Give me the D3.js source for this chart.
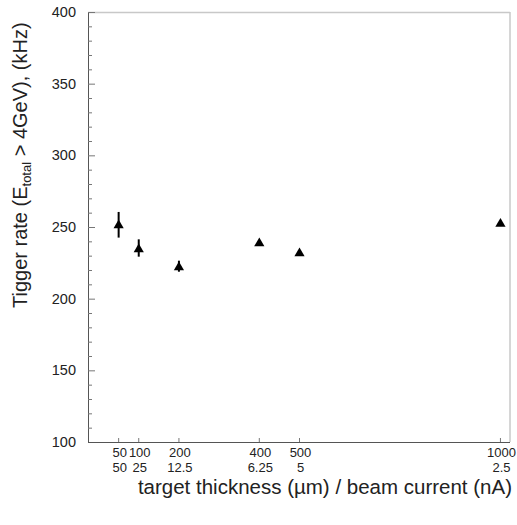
<!DOCTYPE html>
<html>
<head>
<meta charset="utf-8">
<script src="https://cdn.jsdelivr.net/npm/d3@7"></script>
<style>
  body { margin: 0; background: #fff; }
  text { font-family: "Liberation Sans", Arial, sans-serif; fill: #222; }
</style>
</head>
<body>
<svg width="517" height="525"></svg>
<script>
// thickness (um), beam current (nA), rate (kHz) and error bar limits
var thickness = [50, 100, 200, 400, 500, 1000];
var current = ["50", "25", "12.5", "6.25", "5", "2.5"];
var rate = [251.5, 234.8, 222.2, 239.0, 232.0, 252.5];
var errLow = [242.6, 229.3, 218.8, 237.5, 230.8, 251.3];
var errHigh = [260.5, 241.4, 226.5, 240.5, 233.2, 253.7];
var yTicks = [100, 150, 200, 250, 300, 350, 400];

var svg = d3.select("svg");
var pLeft = 88, pRight = 510, pTop = 12, pBottom = 442;

var x = d3.scaleLinear().domain([-25, 1025]).range([pLeft, pRight]);
var y = d3.scaleLinear().domain([100, 400]).range([pBottom, pTop]);

// frame: top and right in light gray
svg.append("line").attr("x1", pLeft).attr("x2", pRight).attr("y1", pTop + 0.5).attr("y2", pTop + 0.5)
  .attr("stroke", "#c8c8c8").attr("stroke-width", 1.5);
svg.append("line").attr("x1", pRight).attr("x2", pRight).attr("y1", pTop).attr("y2", pBottom)
  .attr("stroke", "#c8c8c8").attr("stroke-width", 1.5);

// y axis, ticks pointing inward
var yAxis = svg.append("g").attr("transform", "translate(" + pLeft + ",0)");
yAxis.append("line").attr("x1", 0.5).attr("x2", 0.5).attr("y1", pTop).attr("y2", pBottom)
  .attr("stroke", "#555");
d3.range(100, 401, 10).forEach(function (v) {
  var major = v % 50 === 0;
  yAxis.append("line").attr("x1", 0).attr("x2", major ? 7 : 4)
    .attr("y1", y(v) + 0.5).attr("y2", y(v) + 0.5).attr("stroke", "#777");
});
yTicks.forEach(function (v) {
  svg.append("text").attr("x", 76).attr("y", y(v) + 5)
    .attr("text-anchor", "end").attr("font-size", 14.5).text(v);
});

// x axis
svg.append("line").attr("x1", pLeft).attr("x2", pRight).attr("y1", pBottom + 0.5).attr("y2", pBottom + 0.5)
  .attr("stroke", "#555");
thickness.forEach(function (t, i) {
  svg.append("line").attr("x1", x(t) + 0.5).attr("x2", x(t) + 0.5).attr("y1", pBottom).attr("y2", pBottom - 4)
    .attr("stroke", "#777");
  svg.append("text").attr("x", x(t) + 1.5).attr("y", 457).attr("text-anchor", "middle")
    .attr("font-size", 13).text(t);
  svg.append("text").attr("x", x(t) + 1.5).attr("y", 472).attr("text-anchor", "middle")
    .attr("font-size", 13).text(current[i]);
});

// error bars
svg.selectAll(".err").data(thickness).enter().append("line")
  .attr("x1", function (d) { return x(d) + 0.5; }).attr("x2", function (d) { return x(d) + 0.5; })
  .attr("y1", function (d, i) { return y(errLow[i]); })
  .attr("y2", function (d, i) { return y(errHigh[i]); })
  .attr("stroke", "#000").attr("stroke-width", 2);

// triangle markers
var tri = d3.symbol().type(d3.symbolTriangle).size(45);
svg.selectAll(".pt").data(thickness).enter().append("path")
  .attr("d", tri)
  .attr("transform", function (d, i) { return "translate(" + (x(d) + 0.5) + "," + (y(rate[i]) + 0.5) + ")"; })
  .attr("fill", "#000");

// axis titles
var yl = svg.append("text").attr("transform", "translate(27,308) rotate(-90)")
  .attr("text-anchor", "start").attr("font-size", 20);
yl.append("tspan").text("Tigger rate (E");
yl.append("tspan").attr("font-size", 13).attr("dy", 4).text("total");
yl.append("tspan").attr("dy", -4).text(" > 4GeV), (kHz)");

svg.append("text").attr("x", 512).attr("y", 494).attr("text-anchor", "end")
  .attr("font-size", 20.5).text("target thickness (\u00b5m) / beam current (nA)");
</script>
</body>
</html>
